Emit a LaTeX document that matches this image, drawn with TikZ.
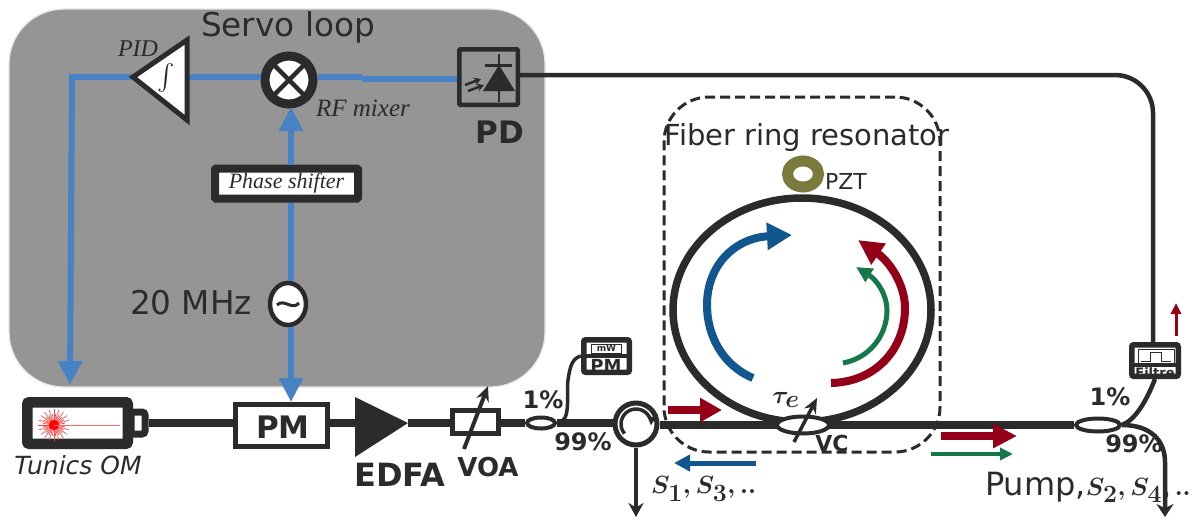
\documentclass[tikz,border=0pt]{standalone}
\usepackage{amsmath,amssymb}
\usepackage{fontspec}
\setmainfont{DejaVu Sans}
\newfontfamily\timesit{Liberation Serif}
\usetikzlibrary{calc,arrows.meta,shapes.geometric}
\definecolor{inkc}{HTML}{2B2B2B}
\definecolor{boxc}{HTML}{959595}
\definecolor{sigc}{HTML}{4682C4}
\definecolor{bluec}{HTML}{12568F}
\definecolor{redc}{HTML}{950019}
\definecolor{greenc}{HTML}{14784A}
\definecolor{pztc}{HTML}{7A7A3C}
\newcommand{\fsz}[1]{\fontsize{#1}{#1}\selectfont}
\tikzset{
  sig/.style={line width=6pt,sigc},
  sigar/.style={sig,-{Triangle[length=24pt,width=23pt]}},
  fib/.style={line width=8pt,inkc},
  thinfib/.style={line width=4.5pt,inkc},
  dev/.style={rectangle,draw=inkc,fill=white,inner sep=0pt,line width=5pt},
  coup/.style={ellipse,draw=inkc,fill=white,inner sep=0pt,line width=4pt},
  lab/.style={inner sep=0pt,text=inkc},
  bold/.style={lab,font=\fsz{#1}\bfseries},
  tunear/.style={line width=4pt,inkc,-{Stealth[length=15pt,width=13pt]}}
}
\begin{document}
\begin{tikzpicture}[x=1pt,y=-1pt]
\useasboundingbox (0,0) rectangle (1201,517);
% servo box
\node (servo) [rectangle,rounded corners=55pt,fill=boxc,draw=black!10,line width=1.2pt,inner sep=0pt,minimum width=536pt,minimum height=378pt] at (277,198) {};
\node (servolab) [lab,font=\fsz{32.7}] at (288,27) {Servo loop};
% servo parts
\coordinate (pidtip) at (133,77);
\coordinate (pidup) at (187,40);
\coordinate (piddn) at (187,120);
\coordinate (pidback) at (187,77);
\coordinate (corner) at (72,77);
\coordinate (lasin) at (70,385);
\coordinate (stepa) at (362,77);
\coordinate (stepb) at (362,79);
\node (mixer) [circle,draw=inkc,fill=white,line width=9pt,minimum size=48pt,inner sep=0pt] at (289,80) {};
\node (phase) [rectangle,draw=inkc,fill=white,line width=8pt,rounded corners=1pt,minimum width=143pt,minimum height=30pt,inner sep=0pt,text=inkc,font=\timesit\fsz{22}\itshape] at (286.5,183.5) {Phase shifter};
\node (osc) [ellipse,draw=inkc,fill=white,line width=4.5pt,minimum width=36pt,minimum height=42pt,inner sep=0pt] at (288,304) {};
\node (pdbox) [rectangle,draw=inkc,line width=4.5pt,rounded corners=1pt,minimum width=58.5pt,minimum height=55.5pt,inner sep=0pt] at (488.5,77) {};
\node (pm) [dev,minimum width=92pt,minimum height=42pt] at (281,425.5) {};
\draw[sig] (pidback)--(pidback-|mixer.west);
\draw[sig] (mixer.east|-stepa)--(stepa);
\draw[sig] (stepb)--(stepb-|pdbox.west);
\draw[sigar,line join=miter] (pidtip)--(corner)--(lasin);
\draw[sigar] (phase.north-|291,0)--(291,107);
\draw[sig] (osc.north-|291,0)--(phase.south-|291,0);
\draw[sigar] (osc.south-|291,0)--(pm.north-|291,0);
\fill[white,draw=inkc,line width=5pt,line join=miter] (pidtip)--(pidup)--(piddn)--cycle;
\node (pidint) [lab,font=\fsz{26}] at (166,78) {$\int$};
\node (pidlab) [lab,font=\timesit\fsz{24}\itshape] at (138,49) {PID};
\draw[inkc,line width=4.5pt] (mixer.45)--(mixer.225) (mixer.135)--(mixer.315);
\node (mixlab) [lab,font=\timesit\fsz{25}\itshape] at (363,108) {RF mixer};
\node (osclab) [lab,font=\fsz{32.7}] at (191,303) {20 MHz};
\draw[inkc,line width=3pt] ($(osc)+(-11,1)$) .. controls ($(osc)+(-4,-6)$) and ($(osc)+(4,7)$) .. ($(osc)+(11,-1)$);
% photodiode
\coordinate (pdtop) at (499,54);
\coordinate (pdbot) at (499,102);
\draw[inkc,line width=2.5pt] (pdtop)--(pdbot);
\fill[inkc] (499,65)--(515,91)--(483,91)--cycle;
\draw[inkc,line width=3pt] (485,65)--(512,65);
\draw[inkc,line width=2.5pt,-{Stealth[length=7pt,width=8pt]}] (465,85)--(481,79);
\draw[inkc,line width=2.5pt,-{Stealth[length=7pt,width=8pt]}] (468,91)--(484,85);
\node (pdlab) [bold=31] at (500,132) {PD};
% laser
\node (lascap) [rectangle,draw=inkc,fill=white,line width=7pt,rounded corners=3pt,minimum width=14pt,minimum height=22pt,inner sep=0pt] at (138,423) {};
\node (laser) [rectangle,draw=inkc,fill=white,line width=10.5pt,rounded corners=2pt,minimum width=100.5pt,minimum height=41.5pt,inner sep=0pt] at (77.5,423) {};
\coordinate (star) at (54,425);
\foreach \a in {0,18,...,342}{\draw[red!75,line width=0.6pt] (star)--++(\a:16);}
\foreach \a in {9,27,...,351}{\draw[red!75,line width=0.6pt] (star)--++(\a:11);}
\fill[red] (star) circle (5);
\draw[red!60,line width=1pt] (star)--(120,425);
\node (laslab) [lab,font=\fsz{25}\itshape] at (78,465) {Tunics OM};
% optical line
\node (pmlab) [bold=31] at (283,427) {PM};
\coordinate (edfain) at (355,423);
\coordinate (edfaout) at (408,423);
\fill[inkc] (355,397)--(edfaout)--(355,457)--cycle;
\node (edfalab) [bold=32] at (400,475) {EDFA};
\node (voa) [dev,minimum width=46pt,minimum height=23pt] at (475.5,421.5) {};
\coordinate (voafrom) at (464,449);
\coordinate (voato) at (488,386);
\node (voalab) [bold=26] at (488,467) {VOA};
\node (cp1) [coup,minimum width=28pt,minimum height=11pt] at (541,423) {};
\node (circ) [circle,draw=inkc,fill=white,line width=5pt,minimum size=42pt,inner sep=0pt] at (636,424) {};
\draw[fib] (lascap.east)--(pm.west|-lascap.east);
\draw[fib] (pm.east|-edfain)--(edfain);
\draw[fib] (edfaout)--(voa.west|-edfaout);
\draw[fib] (voa.east|-cp1.west)--(cp1.west);
\draw[fib] (cp1.east)--(circ.west|-cp1.east);
\draw[tunear] (voafrom)--(voato);
\node (cp1a) [bold=24] at (543,400) {1\%};
\node (cp1b) [bold=24] at (583,442) {99\%};
% power meter
\node (meter) [dev,line width=5.5pt,rounded corners=2pt,minimum width=45.5pt,minimum height=32.5pt] at (606.5,356) {};
\node (meterwin) [rectangle,draw=inkc,line width=0.8pt,inner sep=0pt,minimum width=30pt,minimum height=9pt,font=\fsz{9}\bfseries,text=inkc] at (606.5,348.5) {mW};
\draw[inkc,line width=3.5pt] (meter.west|-0,356)--(meter.east|-0,356);
\node (meterlab) [inner sep=0pt,text=inkc,font=\fsz{18}\bfseries] at (606,366) {PM};
\draw[thinfib,line width=3.5pt] (cp1.east) .. controls (572,422) and (566,395) .. (568,380) .. controls (570,365) and (573,358) .. (meter.west);
% circulator
\draw[inkc,line width=3.5pt,-{Stealth[length=12pt,width=12pt]}] ($(circ)+(140:15)$) arc (140:365:15);
\coordinate (s1end) at (636,517);
\draw[inkc,line width=4.5pt,-{Stealth[length=14pt,width=15pt]}] (circ.south)--(s1end);
\node (s1lab) [lab,anchor=west,font=\fsz{36}\boldmath] at (651,489) {$S_1,S_3,..$};
% ring
\node (ringbox) [rectangle,draw=inkc,dash pattern=on 10pt off 5pt,line width=3pt,rounded corners=45pt,minimum width=276pt,minimum height=355pt,inner sep=0pt] at (802,274.5) {};
\node (ringlab) [lab,font=\fsz{29}] at (807,137) {Fiber ring resonator};
\node (ring) [ellipse,draw=inkc,line width=7.5pt,minimum width=258pt,minimum height=224pt,inner sep=0pt] at (802,310) {};
\node (pzt) [ellipse,draw=pztc,fill=white,line width=11pt,minimum width=31pt,minimum height=26pt,inner sep=0pt] at (803,174) {};
\node (pztlab) [lab,font=\fsz{22}] at (846,181) {PZT};
\node (cp2) [coup,minimum width=44pt,minimum height=13pt] at (1098,425) {};
\draw[fib] (circ.east|-cp2.west)--(cp2.west);
\node (vc) [coup,minimum width=52pt,minimum height=17pt] at (803,425) {};
\draw[tunear,line width=3.5pt] (794,442)--(817,398);
\node (taulab) [lab,font=\fsz{50}\boldmath] at (786,400) {$\tau_e$};
\node (vclab) [bold=22] at (832,443) {VC};
% circulating light
\draw[line width=8pt,bluec,-{Triangle[length=25pt,width=26pt]}] (753,378) .. controls (722,365) and (707,335) .. (707,305) .. controls (707,265) and (735,238) .. (792,235);
\draw[line width=8pt,redc,-{Triangle[length=25pt,width=24pt]}] (831,383) .. controls (875,382) and (905,350) .. (905,308) .. controls (905,285) and (890,262) .. (858,240);
\draw[line width=5pt,greenc,-{Triangle[length=16pt,width=15pt]}] (843,363) .. controls (870,358) and (887,335) .. (887,310) .. controls (887,295) and (877,280) .. (856,267);
% launched light
\coordinate (redin) at (668,410);
\coordinate (redintip) at (722,410);
\coordinate (blueback) at (756,463);
\coordinate (bluebacktip) at (674,463);
\coordinate (redout) at (941,436);
\coordinate (redouttip) at (1017,436);
\coordinate (grnout) at (931,454);
\coordinate (grnouttip) at (1013,454);
\coordinate (redup) at (1176,336);
\coordinate (reduptip) at (1176,303);
\draw[line width=8pt,redc,-{Triangle[length=22pt,width=23pt]}] (redin)--(redintip);
\draw[line width=5pt,bluec,-{Triangle[length=16pt,width=16pt]}] (blueback)--(bluebacktip);
\draw[line width=8pt,redc,-{Triangle[length=24pt,width=23pt]}] (redout)--(redouttip);
\draw[line width=4pt,greenc,-{Triangle[length=13pt,width=12pt]}] (grnout)--(grnouttip);
\draw[line width=3pt,redc,-{Triangle[length=11pt,width=10pt]}] (redup)--(reduptip);
% output coupler
\node (filt) [dev,line width=5.5pt,rounded corners=2pt,minimum width=46.5pt,minimum height=31.5pt] at (1155,360.5) {};
\node (filtwin) [rectangle,draw=inkc,line width=0.8pt,inner sep=0pt,minimum width=36pt,minimum height=14pt] at (1156,356) {};
\draw[inkc,line width=1pt] (1141,361)--(1150,361)--(1150,352)--(1161,352)--(1161,361)--(1171,361);
\draw[inkc,line width=3.5pt] (filt.west|-0,365)--(filt.east|-0,365);
\node (filtlab) [inner sep=0pt,text=inkc,font=\fsz{13}\bfseries] at (1155,373) {Filtre};
\draw[thinfib] (cp2.east) .. controls (1135,420) and (1146,402) .. (filt.south);
\coordinate (outend) at (1165,517);
\draw[thinfib,-{Stealth[length=13pt,width=17pt]}] (cp2.east) .. controls (1150,425) and (1165,440) .. (1165,462)--(outend);
\node (cp2a) [bold=24] at (1110,397) {1\%};
\node (cp2b) [bold=24] at (1134,444) {99\%};
\node (pumplab) [lab,anchor=west,font=\fsz{32}] at (985,487) {Pump,{\fsz{36}\boldmath$S_2,S_4,..$}};
% feedback fibre
\draw[thinfib,rounded corners=38pt] (pdbox.east|-0,75)--(1153,75)--(filt.north-|1153,0);
\end{tikzpicture}
\end{document}
